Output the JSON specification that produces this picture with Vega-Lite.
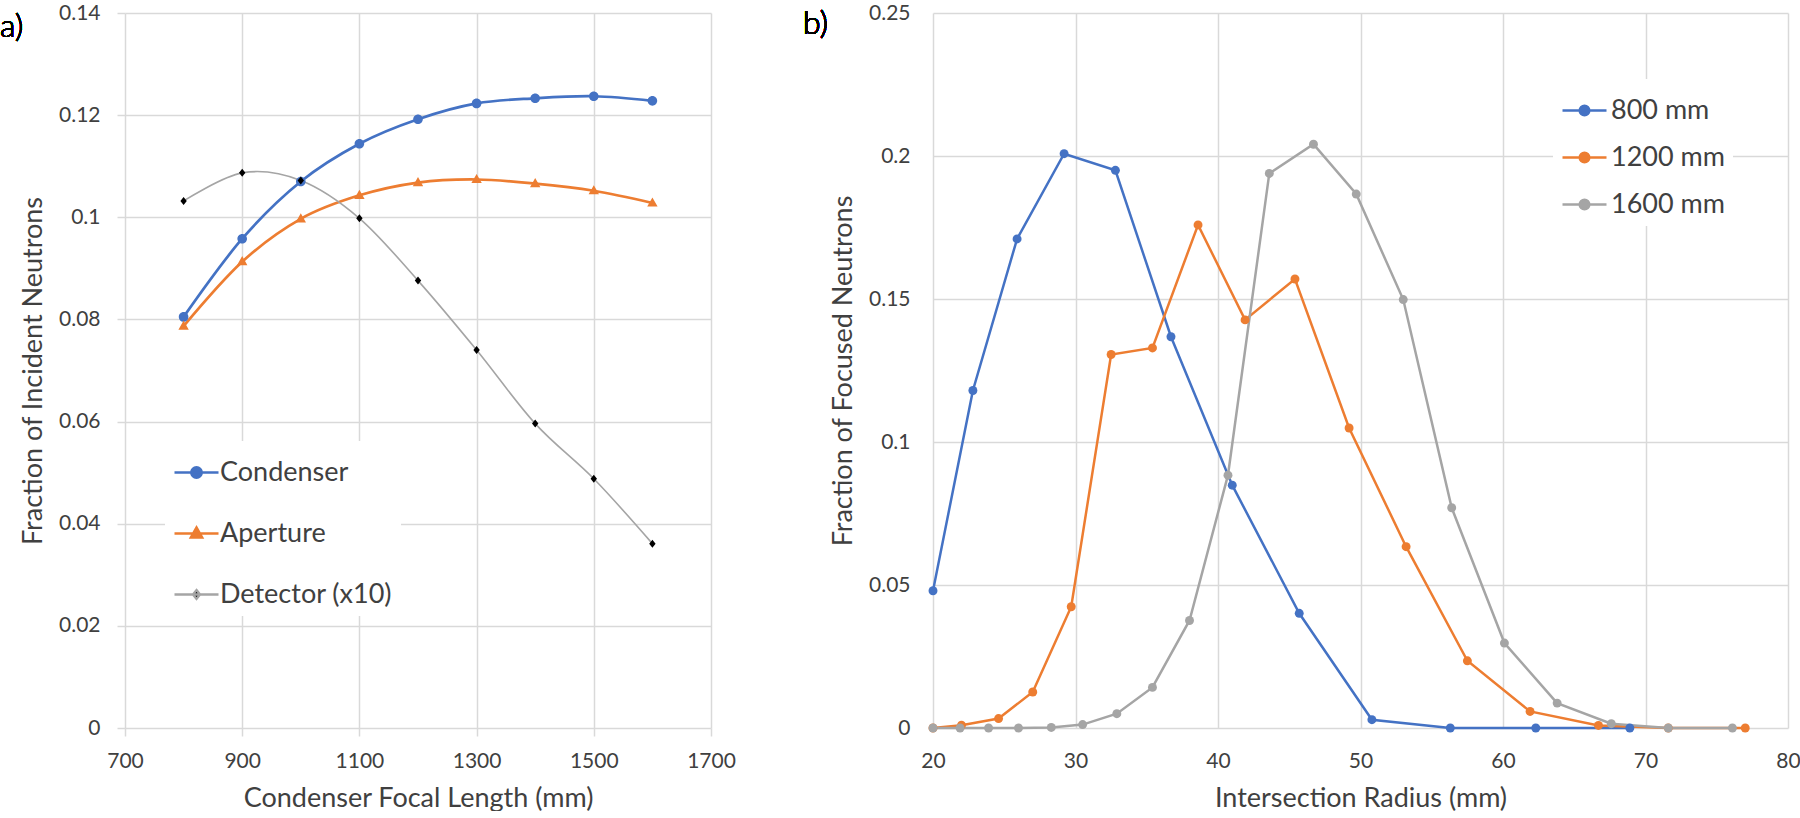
{
  "$schema": "https://vega.github.io/schema/vega-lite/v6.json",
  "padding": {"left": 0, "top": 2, "right": 0, "bottom": 0},
  "background": "white",
  "spacing": 67,
  "resolve": {
    "scale": {"fill": "independent", "stroke": "independent", "shape": "independent"},
    "legend": {"fill": "independent", "stroke": "independent", "shape": "independent"}
  },
  "config": {
    "view": {"stroke": null},
    "axis": {
      "domain": false, "grid": true, "gridColor": "#d9d9d9", "gridWidth": 1.5,
      "tickColor": "#d9d9d9", "tickWidth": 1.5,
      "labelFont": "Lato", "labelFontSize": 21, "labelColor": "#404040",
      "titleFont": "Lato", "titleFontSize": 27, "titleFontWeight": "normal", "titleColor": "#404040",
      "labelFlush": false, "labelOverlap": false
    },
    "legend": {"labelFont": "Lato", "labelFontSize": 27, "labelColor": "#404040", "labelLimit": 400}
  },
  "datasets": {
    "a": [
      {"f": 800, "s": "Condenser", "v": 0.0805},
      {"f": 900, "s": "Condenser", "v": 0.0958},
      {"f": 1000, "s": "Condenser", "v": 0.1070},
      {"f": 1100, "s": "Condenser", "v": 0.1144},
      {"f": 1200, "s": "Condenser", "v": 0.1192},
      {"f": 1300, "s": "Condenser", "v": 0.1223},
      {"f": 1400, "s": "Condenser", "v": 0.1233},
      {"f": 1500, "s": "Condenser", "v": 0.1237},
      {"f": 1600, "s": "Condenser", "v": 0.1228},
      {"f": 800, "s": "Aperture", "v": 0.0787},
      {"f": 900, "s": "Aperture", "v": 0.0913},
      {"f": 1000, "s": "Aperture", "v": 0.0997},
      {"f": 1100, "s": "Aperture", "v": 0.1043},
      {"f": 1200, "s": "Aperture", "v": 0.1068},
      {"f": 1300, "s": "Aperture", "v": 0.1074},
      {"f": 1400, "s": "Aperture", "v": 0.1066},
      {"f": 1500, "s": "Aperture", "v": 0.1052},
      {"f": 1600, "s": "Aperture", "v": 0.1028},
      {"f": 800, "s": "Detector (x10)", "v": 0.1032},
      {"f": 900, "s": "Detector (x10)", "v": 0.1087},
      {"f": 1000, "s": "Detector (x10)", "v": 0.1072},
      {"f": 1100, "s": "Detector (x10)", "v": 0.0998},
      {"f": 1200, "s": "Detector (x10)", "v": 0.0876},
      {"f": 1300, "s": "Detector (x10)", "v": 0.0740},
      {"f": 1400, "s": "Detector (x10)", "v": 0.0596},
      {"f": 1500, "s": "Detector (x10)", "v": 0.0488},
      {"f": 1600, "s": "Detector (x10)", "v": 0.0361}
    ],
    "b": [
      {"r": 20.0, "s": "800 mm", "v": 0.048},
      {"r": 22.8, "s": "800 mm", "v": 0.118},
      {"r": 25.9, "s": "800 mm", "v": 0.171},
      {"r": 29.2, "s": "800 mm", "v": 0.2008},
      {"r": 32.8, "s": "800 mm", "v": 0.195},
      {"r": 36.7, "s": "800 mm", "v": 0.1368},
      {"r": 41.0, "s": "800 mm", "v": 0.0849},
      {"r": 45.7, "s": "800 mm", "v": 0.0401},
      {"r": 50.8, "s": "800 mm", "v": 0.0029},
      {"r": 56.3, "s": "800 mm", "v": 0.0},
      {"r": 62.3, "s": "800 mm", "v": 0.0},
      {"r": 68.9, "s": "800 mm", "v": 0.0},
      {"r": 20.0, "s": "1200 mm", "v": 0.0},
      {"r": 22.0, "s": "1200 mm", "v": 0.001},
      {"r": 24.6, "s": "1200 mm", "v": 0.0033},
      {"r": 27.0, "s": "1200 mm", "v": 0.0126},
      {"r": 29.7, "s": "1200 mm", "v": 0.0424},
      {"r": 32.5, "s": "1200 mm", "v": 0.1306},
      {"r": 35.4, "s": "1200 mm", "v": 0.1329},
      {"r": 38.6, "s": "1200 mm", "v": 0.1759},
      {"r": 41.9, "s": "1200 mm", "v": 0.1427},
      {"r": 45.4, "s": "1200 mm", "v": 0.157},
      {"r": 49.2, "s": "1200 mm", "v": 0.1049},
      {"r": 53.2, "s": "1200 mm", "v": 0.0634},
      {"r": 57.5, "s": "1200 mm", "v": 0.0235},
      {"r": 61.9, "s": "1200 mm", "v": 0.0058},
      {"r": 66.7, "s": "1200 mm", "v": 0.0009},
      {"r": 71.6, "s": "1200 mm", "v": 0.0},
      {"r": 77.0, "s": "1200 mm", "v": 0.0},
      {"r": 20.0, "s": "1600 mm", "v": 0.0},
      {"r": 21.9, "s": "1600 mm", "v": 0.0},
      {"r": 23.9, "s": "1600 mm", "v": 0.0},
      {"r": 26.0, "s": "1600 mm", "v": 0.0},
      {"r": 28.3, "s": "1600 mm", "v": 0.0002},
      {"r": 30.5, "s": "1600 mm", "v": 0.0012},
      {"r": 32.9, "s": "1600 mm", "v": 0.005},
      {"r": 35.4, "s": "1600 mm", "v": 0.0142},
      {"r": 38.0, "s": "1600 mm", "v": 0.0376},
      {"r": 40.7, "s": "1600 mm", "v": 0.0884},
      {"r": 43.6, "s": "1600 mm", "v": 0.1939},
      {"r": 46.7, "s": "1600 mm", "v": 0.2041},
      {"r": 49.7, "s": "1600 mm", "v": 0.1867},
      {"r": 53.0, "s": "1600 mm", "v": 0.1498},
      {"r": 56.4, "s": "1600 mm", "v": 0.077},
      {"r": 60.1, "s": "1600 mm", "v": 0.0297},
      {"r": 63.8, "s": "1600 mm", "v": 0.0087},
      {"r": 67.6, "s": "1600 mm", "v": 0.0015},
      {"r": 71.6, "s": "1600 mm", "v": 0.0},
      {"r": 76.1, "s": "1600 mm", "v": 0.0}
    ]
  },
  "hconcat": [
    {
      "width": 586,
      "height": 715,
      "data": {"name": "a"},
      "encoding": {
        "x": {"field": "f", "type": "quantitative", "scale": {"domain": [700, 1700], "nice": false, "zero": false},
              "axis": {"values": [700, 900, 1100, 1300, 1500, 1700], "format": "d", "title": "Condenser Focal Length (mm)", "tickSize": 8, "labelPadding": 14, "titlePadding": 14}},
        "y": {"field": "v", "type": "quantitative", "scale": {"domain": [0, 0.14], "nice": false},
              "axis": {"values": [0, 0.02, 0.04, 0.06, 0.08, 0.1, 0.12, 0.14], "format": "~g", "title": "Fraction of Incident Neutrons", "tickSize": 8, "labelPadding": 17, "titlePadding": 11}}
      },
      "layer": [
        {
          "mark": {"type": "point", "filled": true, "opacity": 1, "strokeWidth": 2.4, "clip": true},
          "encoding": {
            "y": {"datum": -1},
            "fill": {"field": "s", "type": "nominal", "scale": {"domain": ["Condenser", "Aperture", "Detector (x10)"], "range": ["#4472C4", "#ED7D31", "#000000"]},
                     "legend": {"orient": "none", "legendX": 40, "legendY": 428, "title": null, "symbolSize": 1936, "symbolStrokeWidth": 2.4, "labelOffset": 0, "rowPadding": 24, "padding": 8, "fillColor": "white"}},
            "stroke": {"field": "s", "type": "nominal", "scale": {"domain": ["Condenser", "Aperture", "Detector (x10)"], "range": ["#4472C4", "#ED7D31", "#A5A5A5"]},
                     "legend": {"orient": "none", "legendX": 40, "legendY": 428, "title": null, "symbolSize": 1936, "symbolStrokeWidth": 2.4, "labelOffset": 0, "rowPadding": 24, "padding": 8, "fillColor": "white"}},
            "shape": {"field": "s", "type": "nominal", "scale": {"domain": ["Condenser", "Aperture", "Detector (x10)"], "range": ["M-1,0L1,0M-0.24,0A0.24,0.24,0,1,1,0.24,0A0.24,0.24,0,1,1,-0.24,0Z", "M-1,0L1,0M0,-0.28L0.26,0.18L-0.26,0.18Z", "M-1,0L1,0M0,-0.2L0.16,0L0,0.2L-0.16,0Z"]},
                     "legend": {"orient": "none", "legendX": 40, "legendY": 428, "title": null, "symbolSize": 1936, "symbolStrokeWidth": 2.4, "labelOffset": 0, "rowPadding": 24, "padding": 8, "fillColor": "white"}}
          }
        },
        {
          "transform": [{"filter": "datum.s !== 'Detector (x10)'"}],
          "mark": {"type": "line", "interpolate": "cardinal", "strokeWidth": 2.7},
          "encoding": {
            "stroke": {"field": "s", "type": "nominal", "scale": {"domain": ["Condenser", "Aperture", "Detector (x10)"], "range": ["#4472C4", "#ED7D31", "#A5A5A5"]}, "legend": null}
          }
        },
        {
          "transform": [{"filter": "datum.s === 'Detector (x10)'"}],
          "mark": {"type": "line", "interpolate": "cardinal", "strokeWidth": 1.6},
          "encoding": {
            "stroke": {"field": "s", "type": "nominal", "scale": {"domain": ["Condenser", "Aperture", "Detector (x10)"], "range": ["#4472C4", "#ED7D31", "#A5A5A5"]}, "legend": null}
          }
        },
        {
          "mark": {"type": "point", "filled": true, "opacity": 1, "size": 1600, "strokeWidth": 0},
          "encoding": {
            "fill": {"field": "s", "type": "nominal", "scale": {"domain": ["Condenser", "Aperture", "Detector (x10)"], "range": ["#4472C4", "#ED7D31", "#000000"]}, "legend": null},
            "shape": {"field": "s", "type": "nominal", "scale": {"domain": ["Condenser", "Aperture", "Detector (x10)"], "range": ["M-1,0L1,0M-0.24,0A0.24,0.24,0,1,1,0.24,0A0.24,0.24,0,1,1,-0.24,0Z", "M-1,0L1,0M0,-0.28L0.26,0.18L-0.26,0.18Z", "M-1,0L1,0M0,-0.2L0.16,0L0,0.2L-0.16,0Z"]}, "legend": null}
          }
        },
        {
          "mark": {"type": "text", "text": "a)", "align": "left", "baseline": "alphabetic", "dx": -125, "dy": 24, "fontSize": 32, "font": "Lato", "fontWeight": 300, "color": "#000000"},
          "encoding": {"x": {"datum": 700}, "y": {"datum": 0.14}}
        }
      ]
    },
    {
      "width": 855,
      "height": 715,
      "data": {"name": "b"},
      "encoding": {
        "x": {"field": "r", "type": "quantitative", "scale": {"domain": [20, 80], "nice": false, "zero": false},
              "axis": {"values": [20, 30, 40, 50, 60, 70, 80], "format": "d", "title": "Intersection Radius (mm)", "ticks": false, "labelPadding": 22, "titlePadding": 14}},
        "y": {"field": "v", "type": "quantitative", "scale": {"domain": [0, 0.25], "nice": false},
              "axis": {"values": [0, 0.05, 0.1, 0.15, 0.2, 0.25], "format": "~g", "title": "Fraction of Focused Neutrons", "ticks": false, "labelPadding": 23, "titlePadding": 11}}
      },
      "layer": [
        {
          "mark": {"type": "point", "filled": true, "opacity": 1, "strokeWidth": 2.4, "clip": true, "shape": "M-1,0L1,0M-0.22,0A0.22,0.22,0,1,1,0.22,0A0.22,0.22,0,1,1,-0.22,0Z"},
          "encoding": {
            "y": {"datum": -1},
            "fill": {"field": "s", "type": "nominal", "scale": {"domain": ["800 mm", "1200 mm", "1600 mm"], "range": ["#4472C4", "#ED7D31", "#A5A5A5"]},
                     "legend": {"orient": "none", "legendX": 620, "legendY": 66, "title": null, "symbolType": "M-1,0L1,0M-0.22,0A0.22,0.22,0,1,1,0.22,0A0.22,0.22,0,1,1,-0.22,0Z", "symbolSize": 1936, "symbolStrokeWidth": 2.4, "labelOffset": 3, "rowPadding": 10, "padding": 8, "fillColor": "white"}},
            "stroke": {"field": "s", "type": "nominal", "scale": {"domain": ["800 mm", "1200 mm", "1600 mm"], "range": ["#4472C4", "#ED7D31", "#A5A5A5"]},
                     "legend": {"orient": "none", "legendX": 620, "legendY": 66, "title": null, "symbolType": "M-1,0L1,0M-0.22,0A0.22,0.22,0,1,1,0.22,0A0.22,0.22,0,1,1,-0.22,0Z", "symbolSize": 1936, "symbolStrokeWidth": 2.4, "labelOffset": 3, "rowPadding": 10, "padding": 8, "fillColor": "white"}}
          }
        },
        {
          "mark": {"type": "line", "strokeWidth": 2.5},
          "encoding": {
            "stroke": {"field": "s", "type": "nominal", "scale": {"domain": ["800 mm", "1200 mm", "1600 mm"], "range": ["#4472C4", "#ED7D31", "#A5A5A5"]}, "legend": null}
          }
        },
        {
          "mark": {"type": "point", "filled": true, "opacity": 1, "size": 80, "shape": "circle", "strokeWidth": 0},
          "encoding": {
            "fill": {"field": "s", "type": "nominal", "scale": {"domain": ["800 mm", "1200 mm", "1600 mm"], "range": ["#4472C4", "#ED7D31", "#A5A5A5"]}, "legend": null}
          }
        },
        {
          "mark": {"type": "text", "text": "b)", "align": "left", "baseline": "alphabetic", "dx": -130, "dy": 21, "fontSize": 32, "font": "Lato", "fontWeight": 300, "color": "#000000"},
          "encoding": {"x": {"datum": 20}, "y": {"datum": 0.25}}
        }
      ]
    }
  ]
}
